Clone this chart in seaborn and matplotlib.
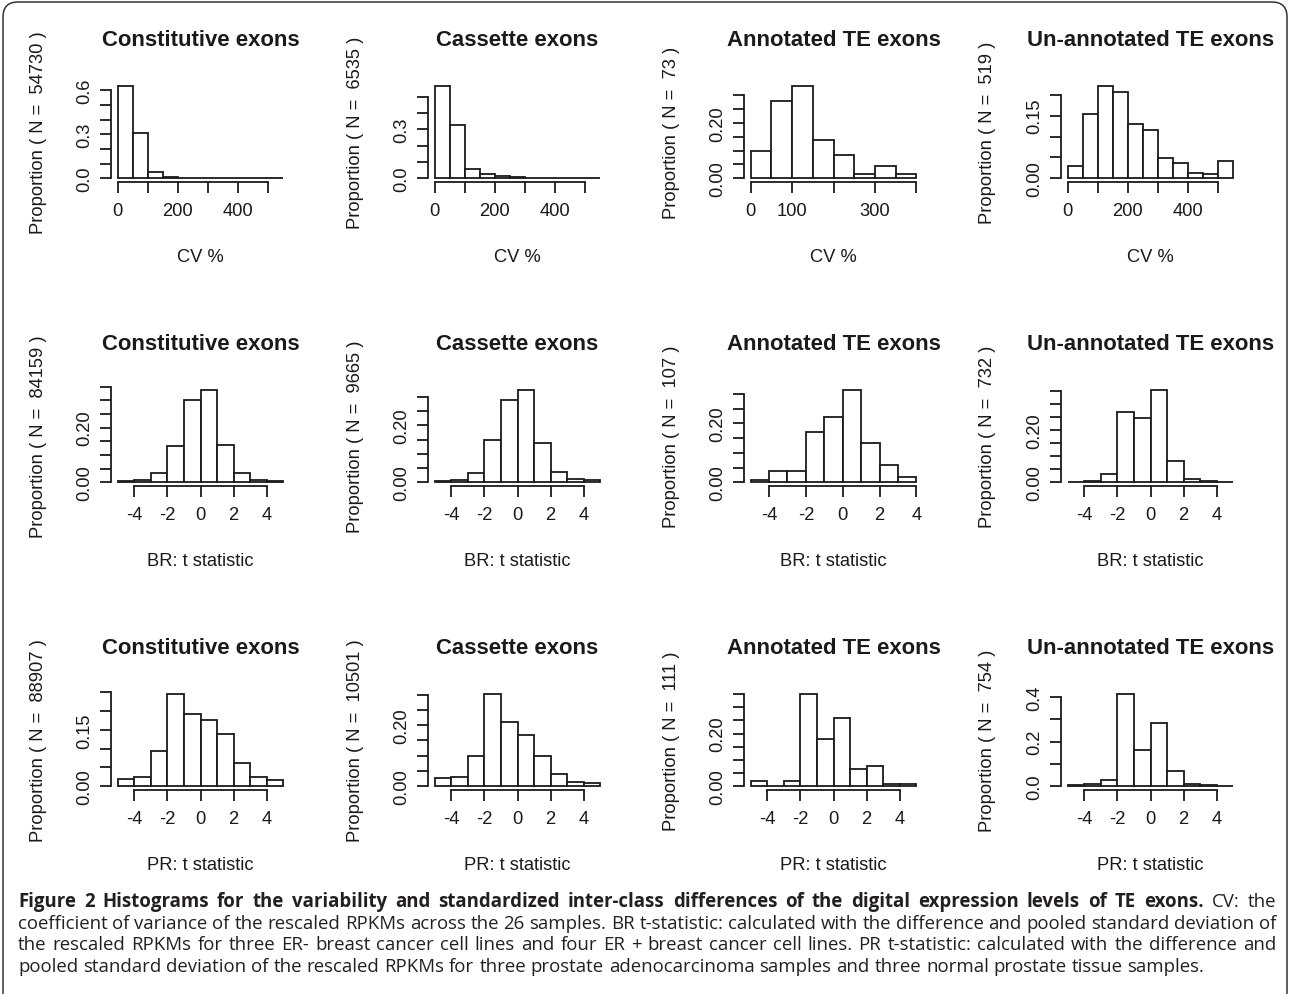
#!/usr/bin/env python3
"""
Histograms of CV % and t statistics for four exon classes (3 x 4 panels)
with the figure caption underneath, drawn in an R-like base-graphics style.
"""

import numpy as np
import pandas as pd
import matplotlib.pyplot as plt
import seaborn as sns
from matplotlib.patches import FancyBboxPatch

# ---- values (proportion per bin) ----
classes = ["Constitutive exons", "Cassette exons",
           "Annotated TE exons", "Un-annotated TE exons"]
row_xlabels = ["CV %", "BR: t statistic", "PR: t statistic"]

cv_n = [54730, 6535, 73, 519]
br_n = [84159, 9665, 107, 732]
pr_n = [88907, 10501, 111, 754]

cv_edges = [0, 50, 100, 150, 200, 250, 300, 350, 400, 450, 500, 550]
cv_edges_annot = [0, 50, 100, 150, 200, 250, 300, 350, 400]
t_edges = [-5, -4, -3, -2, -1, 0, 1, 2, 3, 4, 5]
t_edges_annot = [-5, -4, -3, -2, -1, 0, 1, 2, 3, 4]

cv_const = [0.632, 0.307, 0.041, 0.012, 0.003, 0.002, 0.001, 0.001, 0.0005, 0.0003, 0.0002]
cv_cass = [0.567, 0.328, 0.055, 0.026, 0.016, 0.010, 0.004, 0.003, 0.002, 0.001, 0.001]
cv_annot = [0.098, 0.280, 0.335, 0.140, 0.085, 0.014, 0.044, 0.014]
cv_unann = [0.030, 0.155, 0.222, 0.206, 0.130, 0.115, 0.048, 0.037, 0.012, 0.010, 0.042]

br_const = [0.004, 0.009, 0.034, 0.133, 0.302, 0.339, 0.135, 0.034, 0.009, 0.005]
br_cass = [0.005, 0.009, 0.034, 0.147, 0.289, 0.325, 0.139, 0.036, 0.011, 0.007]
br_annot = [0.009, 0.040, 0.040, 0.172, 0.223, 0.314, 0.132, 0.059, 0.019]
br_unann = [0.003, 0.006, 0.032, 0.269, 0.247, 0.354, 0.082, 0.013, 0.004, 0.002]

pr_const = [0.019, 0.026, 0.093, 0.246, 0.192, 0.175, 0.140, 0.063, 0.024, 0.017]
pr_cass = [0.027, 0.032, 0.098, 0.303, 0.210, 0.169, 0.098, 0.040, 0.014, 0.012]
pr_annot = [0.020, 0.0, 0.020, 0.351, 0.180, 0.258, 0.065, 0.078, 0.009, 0.009]
pr_unann = [0.004, 0.009, 0.027, 0.414, 0.163, 0.282, 0.070, 0.012, 0.006, 0.003]

# x ticks: every tick is drawn, only the non-overlapping ones carry a label
cv_xticks = [0, 100, 200, 300, 400, 500]
cv_xticklabels = ["0", "", "200", "", "400", ""]
cv_xticks_annot = [0, 100, 200, 300, 400]
cv_xticklabels_annot = ["0", "100", "", "300", ""]
t_xticks = [-4, -2, 0, 2, 4]
t_xticklabels = ["-4", "-2", "0", "2", "4"]

# y ticks: (step, last tick, labelled ticks)
cv_yaxis = [(0.1, 0.6, ["0.0", "0.3", "0.6"]), (0.1, 0.5, ["0.0", "0.3"]),
            (0.05, 0.30, ["0.00", "0.20"]), (0.05, 0.20, ["0.00", "0.15"])]
br_yaxis = [(0.05, 0.35, ["0.00", "0.20"]), (0.05, 0.30, ["0.00", "0.20"]),
            (0.05, 0.30, ["0.00", "0.20"]), (0.05, 0.35, ["0.00", "0.20"])]
pr_yaxis = [(0.05, 0.25, ["0.00", "0.15"]), (0.05, 0.30, ["0.00", "0.20"]),
            (0.05, 0.35, ["0.00", "0.20"]), (0.1, 0.4, ["0.0", "0.2", "0.4"])]

caption_bold = ("Figure 2 Histograms for the variability and standardized inter-class "
                "differences of the digital expression levels of TE exons.")
caption_lines = [
    "CV: the",
    "coefficient of variance of the rescaled RPKMs across the 26 samples. BR t-statistic: "
    "calculated with the difference and pooled standard deviation of",
    "the rescaled RPKMs for three ER- breast cancer cell lines and four ER + breast cancer "
    "cell lines. PR t-statistic: calculated with the difference and",
    "pooled standard deviation of the rescaled RPKMs for three prostate adenocarcinoma "
    "samples and three normal prostate tissue samples.",
]

# ---- style ----
sns.set_theme(style="ticks")
INK = "#1a1a1a"
CAP_INK = "#231f20"
CAP_FONT = ['Open Sans', 'DejaVu Sans']
plt.rcParams['font.family'] = ['Liberation Sans', 'DejaVu Sans']
plt.rcParams['text.color'] = INK
plt.rcParams['axes.edgecolor'] = INK
plt.rcParams['xtick.color'] = INK
plt.rcParams['ytick.color'] = INK
plt.rcParams['axes.linewidth'] = 1.3

W, H = 1290, 995
TICK_FS = 13.2
TITLE_FS = 15.9
COL_LEFT = [111, 428, 744, 1061]
ROW_TOP = [83, 387, 691]
AX_W, AX_H = 179, 100


def draw_panel(ax, edges, props, n, title, xlabel, xticks, xticklabels, yaxis):
    edges = [float(e) for e in edges]
    centers = [(a + b) / 2 for a, b in zip(edges[:-1], edges[1:])]
    df = pd.DataFrame({"value": centers, "proportion": props})
    sns.histplot(data=df, x="value", weights="proportion", bins=edges, ax=ax,
                 color="white", edgecolor=INK, linewidth=1.3, alpha=1)

    # R pads the plot region by 4% on each side
    span = edges[-1] - edges[0]
    ax.set_xlim(edges[0] - 0.04 * span, edges[-1] + 0.04 * span)
    top = max(props)
    ax.set_ylim(-0.04 * top, 1.04 * top)

    step, last, labelled = yaxis
    yticks = np.round(np.arange(0, last + step / 2, step), 3)
    lab_vals = [float(s) for s in labelled]
    ylabels = []
    for v in yticks:
        match = [s for s, lv in zip(labelled, lab_vals) if abs(lv - v) < 1e-9]
        ylabels.append(match[0] if match else "")

    ax.set_xticks(xticks)
    ax.set_xticklabels(xticklabels)
    ax.set_yticks(yticks)
    ax.set_yticklabels(ylabels, rotation=90, va="center")
    ax.spines['top'].set_visible(False)
    ax.spines['right'].set_visible(False)
    ax.spines['left'].set_bounds(yticks[0], yticks[-1])
    ax.spines['bottom'].set_bounds(xticks[0], xticks[-1])
    ax.tick_params(axis='both', direction='out', length=7.7, width=1.3,
                   labelsize=TICK_FS, color=INK)
    ax.tick_params(axis='x', pad=7)
    ax.tick_params(axis='y', pad=5)
    ax.set_xlabel("")
    ax.set_ylabel("")
    ax.patch.set_alpha(0)

    ax.text(0.5, 1 + 43 / AX_H, title, transform=ax.transAxes, ha="center",
            va="center", fontsize=TITLE_FS, fontweight="bold")
    ax.text(0.5, -74 / AX_H, xlabel, transform=ax.transAxes, ha="center",
            va="center", fontsize=TICK_FS)
    ax.text(-73 / AX_W, 0.5, f"Proportion ( N =  {n} )", transform=ax.transAxes,
            ha="center", va="center", rotation=90, fontsize=TICK_FS)


def text_width(fig, renderer, s, fs, weight="normal"):
    t = fig.text(0, 0, s, fontsize=fs, fontweight=weight, family=CAP_FONT)
    w = t.get_window_extent(renderer).width
    t.remove()
    return w


def natural_width(fig, renderer, words, fs):
    space = text_width(fig, renderer, "a a", fs) - text_width(fig, renderer, "aa", fs)
    total = sum(text_width(fig, renderer, w, fs, wt) for w, wt in words)
    return total + space * (len(words) - 1)


def place_words(fig, renderer, y, x0, x1, words, fs, justify=True):
    """Lay out (word, weight) pairs on one line, justified like the journal."""
    arts, widths = [], []
    for word, weight in words:
        t = fig.text(0, 1 - y / H, word, fontsize=fs, fontweight=weight,
                     color=CAP_INK, family=CAP_FONT, va="baseline", ha="left")
        arts.append(t)
        widths.append(t.get_window_extent(renderer).width)
    space = text_width(fig, renderer, "a a", fs) - text_width(fig, renderer, "aa", fs)
    gap = (x1 - x0 - sum(widths)) / (len(words) - 1) if justify else space
    x = x0
    for t, w in zip(arts, widths):
        t.set_x(x / W)
        x += w + gap


def main():
    fig = plt.figure(figsize=(W / 100, H / 100), dpi=100)
    fig.patch.set_facecolor("white")

    rows = [
        (cv_n, [cv_edges, cv_edges, cv_edges_annot, cv_edges],
         [cv_const, cv_cass, cv_annot, cv_unann],
         [(cv_xticks, cv_xticklabels), (cv_xticks, cv_xticklabels),
          (cv_xticks_annot, cv_xticklabels_annot), (cv_xticks, cv_xticklabels)],
         cv_yaxis),
        (br_n, [t_edges, t_edges, t_edges_annot, t_edges],
         [br_const, br_cass, br_annot, br_unann],
         [(t_xticks, t_xticklabels)] * 4, br_yaxis),
        (pr_n, [t_edges] * 4,
         [pr_const, pr_cass, pr_annot, pr_unann],
         [(t_xticks, t_xticklabels)] * 4, pr_yaxis),
    ]

    for r, (ns, edges_list, props_list, xt_list, yaxes) in enumerate(rows):
        for c in range(4):
            left = COL_LEFT[c] / W
            bottom = 1 - (ROW_TOP[r] + AX_H) / H
            ax = fig.add_axes([left, bottom, AX_W / W, AX_H / H])
            xt, xtl = xt_list[c]
            draw_panel(ax, edges_list[c], props_list[c], ns[c], classes[c],
                       row_xlabels[r], xt, xtl, yaxes[c])

    # caption, justified between x0 and x1; font size chosen so the widest
    # justified line sets with ordinary word spacing
    renderer = fig.canvas.get_renderer()
    x0, x1 = 18, 1276
    base = [907, 929, 950, 972]
    first = [(w, "bold") for w in caption_bold.split()]
    first += [(w, "normal") for w in caption_lines[0].split()]
    body = [[(w, "normal") for w in line.split()] for line in caption_lines[1:]]
    fs = 12.0
    for _ in range(3):
        widest = max(natural_width(fig, renderer, ws, fs) for ws in [first] + body[:2])
        fs = fs * (x1 - x0 - 2) / widest

    place_words(fig, renderer, base[0], x0, x1, first, fs)
    for i, words in enumerate(body):
        place_words(fig, renderer, base[i + 1], x0, x1, words, fs,
                    justify=(i < len(body) - 1))

    # rounded frame around the figure; it runs off the bottom edge
    frame = FancyBboxPatch((3 / 100, -30 / 100), (W - 6) / 100, (H + 27) / 100,
                           boxstyle="round,pad=0,rounding_size=0.15",
                           transform=fig.dpi_scale_trans, fill=False,
                           edgecolor="#333333", linewidth=1.1)
    fig.patches.append(frame)

    fig.savefig("out.png", dpi=100)
    plt.close(fig)


if __name__ == '__main__':
    main()
